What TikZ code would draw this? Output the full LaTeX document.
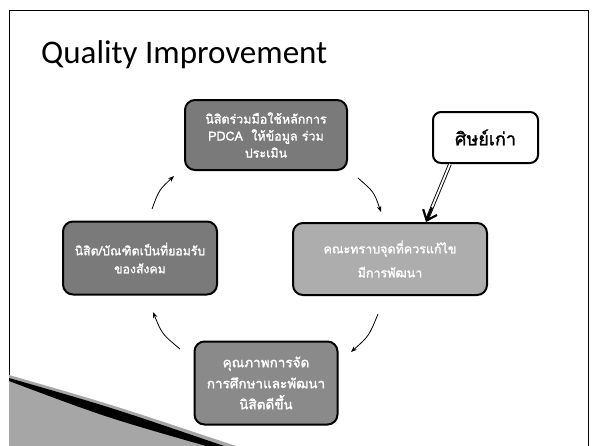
\documentclass[tikz,border=0pt]{standalone}
\usepackage{fontspec}
\setmainfont{Carlito}
\newfontfamily\thai[Script=Thai, FakeBold=1.6]{Loma}
\usetikzlibrary{arrows.meta,calc}
\tikzset{
  stage/.style={draw=black, line width=2pt, rounded corners=10pt, inner sep=2pt,
    align=center, text=white},
  cyc/.style={line width=0.8pt, -{Stealth[length=6pt,width=4.5pt]}},
  callout/.style={draw=black, fill=white, line width=2pt, rounded corners=8pt,
    align=center, font=\thai\fontsize{18}{20}\selectfont}
}
\begin{document}
\begin{tikzpicture}[x=1pt,y=-1pt]
\useasboundingbox (0,0) rectangle (594,445);
\fill[white] (0,0) rectangle (594,445);
% slide frame
\draw[line width=1pt] (9,450) -- (9,10) -- (588,10) -- (588,450);
% title
\node[anchor=base west, inner sep=0, font=\fontsize{33}{36}\selectfont] (title) at (41,63) {Quality Improvement};
% bottom-left decoration
\fill[black!35] (9,375) .. controls (110,404) .. (236,446) -- (9,446) -- cycle;
\fill[black] (9,378) .. controls (110,407) .. (224,446) -- (206,446) .. controls (105,417) .. (9,381) -- cycle;
% stages
\node[stage, fill=black!52, minimum width=162pt, minimum height=70pt,
  font=\thai\fontsize{12.5}{17}\selectfont] (top) at (266,135)
  {นิสิตร่วมมือใช้หลักการ\\PDCA\ \ ให้ข้อมูล ร่วม\\ประเมิน};
\node[stage, fill=black!32, minimum width=194pt, minimum height=72pt,
  font=\thai\fontsize{12.5}{24}\selectfont] (rbox) at (390,259)
  {คณะทราบจุดที่ควรแก้ไข\\มีการพัฒนา};
\node[stage, fill=black!52, minimum width=154pt, minimum height=73pt,
  font=\thai\fontsize{12.3}{18}\selectfont] (lbox) at (140,258)
  {นิสิต/บัณฑิตเป็นที่ยอมรับ\\ของสังคม};
\node[stage, fill=black!46, minimum width=143pt, minimum height=83pt,
  font=\thai\fontsize{13.5}{21}\selectfont] (bbox) at (266,383)
  {คุณภาพการจัด\\การศึกษาและพัฒนา\\นิสิตดีขึ้น};
% callout
\node[callout, minimum width=105pt, minimum height=51pt] (cal) at (485.5,137.5) {ศิษย์เก่า};
\coordinate (cs) at ($(cal.south west)+(18,0)$);
\coordinate (tip) at ($(rbox.north west)+(134,0)$);
\draw[line width=0.9pt, double=white, double distance=1.8pt, shorten >=4pt] (cs) -- (tip);
\draw[line width=2.2pt, -{Straight Barb[length=9pt,width=15pt,line width=2.2pt]}] ($(cs)!0.75!(tip)$) -- (tip);
% cycle arrows
\coordinate (a1s) at (152,209); \coordinate (a1c) at (159,190); \coordinate (a1e) at (174,176);
\coordinate (a2s) at (358,178); \coordinate (a2c) at (374,192); \coordinate (a2e) at (381,212);
\coordinate (a3s) at (378,314); \coordinate (a3c) at (369,336); \coordinate (a3e) at (351,352);
\coordinate (a4s) at (180,349); \coordinate (a4c) at (162,334); \coordinate (a4e) at (153,312);
\draw[cyc] (a1s) .. controls (a1c) .. (a1e);
\draw[cyc] (a2s) .. controls (a2c) .. (a2e);
\draw[cyc] (a3s) .. controls (a3c) .. (a3e);
\draw[cyc] (a4s) .. controls (a4c) .. (a4e);
\end{tikzpicture}
\end{document}
